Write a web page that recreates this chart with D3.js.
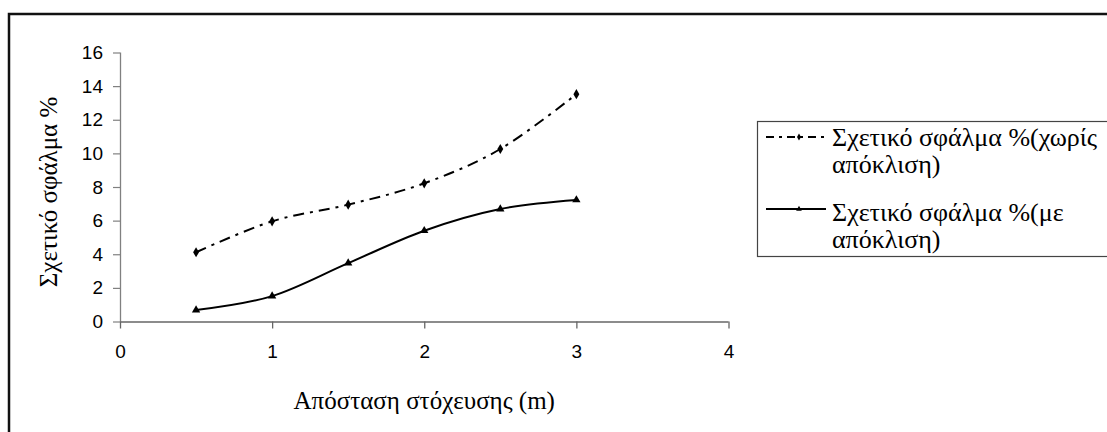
<!DOCTYPE html>
<html>
<head>
<meta charset="utf-8">
<script src="https://cdn.jsdelivr.net/npm/d3@7"></script>
<style>
  html, body { margin: 0; padding: 0; background: #fff; }
  svg { display: block; }
</style>
</head>
<body>
<svg id="chart" width="1107" height="432"></svg>
<script>
// Distance to target (m)
const distances = [0.5, 1, 1.5, 2, 2.5, 3];
// Relative error % without deviation
const errorWithout = [4.12, 5.96, 6.95, 8.22, 10.26, 13.52];
// Relative error % with deviation
const errorWith = [0.68, 1.51, 3.47, 5.40, 6.69, 7.23];

const xTicks = [0, 1, 2, 3, 4];
const yTicks = [0, 2, 4, 6, 8, 10, 12, 14, 16];

const legendLines = [["Σχετικό σφάλμα %(χωρίς", "απόκλιση)"], ["Σχετικό σφάλμα %(με", "απόκλιση)"]];
const xTitle = "Απόσταση στόχευσης (m)";
const yTitle = "Σχετικό σφάλμα %";

const serif = "'Liberation Serif', 'Times New Roman', Times, 'DejaVu Serif', serif";
const sans = "'Liberation Sans', Arial, Helvetica, sans-serif";

const svg = d3.select("#chart");

// Chart area frame (runs off the right and bottom edges)
svg.append("path")
  .attr("d", "M9,440V14H1120")
  .attr("fill", "none")
  .attr("stroke", "#111")
  .attr("stroke-width", 2.5);

const plot = { left: 120, right: 728.5, top: 52.5, bottom: 321.5 };

const x = d3.scaleLinear().domain([0, 4]).range([plot.left, plot.right]);
const y = d3.scaleLinear().domain([0, 16]).range([plot.bottom, plot.top]);

// Y axis
const yAxis = svg.append("g")
  .attr("transform", `translate(${plot.left},0)`)
  .call(d3.axisLeft(y).tickValues(yTicks).tickSize(7).tickPadding(10).tickFormat(d3.format("d")));
yAxis.select(".domain").attr("stroke", "#808080").attr("stroke-width", 1.3).attr("d", `M0.5,${plot.top}V${plot.bottom}`);
yAxis.selectAll(".tick line").attr("stroke", "#808080").attr("stroke-width", 1.2);
yAxis.selectAll(".tick text")
  .attr("font-family", sans)
  .attr("font-size", 19)
  .attr("fill", "#000");

// X axis
const xAxis = svg.append("g")
  .attr("transform", `translate(0,${plot.bottom})`)
  .call(d3.axisBottom(x).tickValues(xTicks).tickSize(7).tickPadding(16).tickFormat(d3.format("d")));
xAxis.select(".domain").attr("stroke", "#666").attr("stroke-width", 1.4).attr("d", `M${plot.left},0.5H${plot.right}`);
xAxis.selectAll(".tick line").attr("stroke", "#666").attr("stroke-width", 1.3);
xAxis.selectAll(".tick text")
  .attr("font-family", sans)
  .attr("font-size", 19)
  .attr("fill", "#000");

// Axis titles
svg.append("text")
  .attr("x", x(2))
  .attr("y", 409)
  .attr("text-anchor", "middle")
  .attr("font-family", serif)
  .attr("font-size", 25)
  .text(xTitle);

svg.append("text")
  .attr("transform", "translate(57,192) rotate(-90)")
  .attr("text-anchor", "middle")
  .attr("font-family", serif)
  .attr("font-size", 25)
  .text(yTitle);

// Smoothed series lines
const line = d3.line()
  .x(d => x(d[0]))
  .y(d => y(d[1]))
  .curve(d3.curveCatmullRom.alpha(0));

const dataWithout = distances.map((d, i) => [d, errorWithout[i]]);
const dataWith = distances.map((d, i) => [d, errorWith[i]]);

svg.append("path")
  .datum(dataWithout)
  .attr("d", line)
  .attr("fill", "none")
  .attr("stroke", "#000")
  .attr("stroke-width", 2)
  .attr("stroke-dasharray", "11,6,3,6");

svg.append("path")
  .datum(dataWith)
  .attr("d", line)
  .attr("fill", "none")
  .attr("stroke", "#000")
  .attr("stroke-width", 2);

// Markers
const diamond = d3.symbol().type(d3.symbolDiamond).size(30);
const triangle = d3.symbol().type(d3.symbolTriangle).size(30);

svg.append("g").selectAll("path")
  .data(dataWithout)
  .join("path")
  .attr("transform", d => `translate(${x(d[0])},${y(d[1])})`)
  .attr("d", diamond)
  .attr("fill", "#000");

svg.append("g").selectAll("path")
  .data(dataWith)
  .join("path")
  .attr("transform", d => `translate(${x(d[0])},${y(d[1])})`)
  .attr("d", triangle)
  .attr("fill", "#000");

// Legend
const legend = svg.append("g");
legend.append("rect")
  .attr("x", 757.5)
  .attr("y", 121.5)
  .attr("width", 400)
  .attr("height", 135)
  .attr("fill", "#fff")
  .attr("stroke", "#444")
  .attr("stroke-width", 1.2);

const entryBase = [146, 221];
const lineGap = 27;
const sampleY = [137, 209];
[0, 1].forEach(i => {
  const by = entryBase[i];
  const ly = sampleY[i];
  legend.append("line")
    .attr("x1", 766).attr("x2", 826)
    .attr("y1", ly).attr("y2", ly)
    .attr("stroke", "#000")
    .attr("stroke-width", 2)
    .attr("stroke-dasharray", i === 0 ? "8,5,3,5" : null);
  legend.append("path")
    .attr("transform", `translate(799,${ly})`)
    .attr("d", d3.symbol().type(i === 0 ? d3.symbolDiamond : d3.symbolTriangle).size(14))
    .attr("fill", "#000");
  legendLines[i].forEach((t, j) => {
    legend.append("text")
      .attr("x", 832)
      .attr("y", by + j * lineGap)
      .attr("font-family", serif)
      .attr("font-size", 26)
      .attr("fill", "#000")
      .text(t);
  });
});
</script>
</body>
</html>
